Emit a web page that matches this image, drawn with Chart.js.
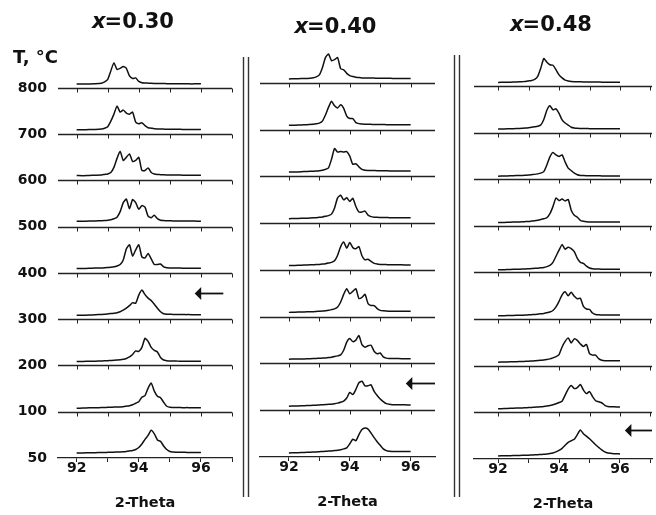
<!DOCTYPE html>
<html><head><meta charset="utf-8">
<script src="https://cdn.jsdelivr.net/npm/chart.js@4.4.1/dist/chart.umd.min.js"></script>
<style>
html,body{margin:0;padding:0;background:#fff;}
#wrap{position:relative;width:656px;height:515px;overflow:hidden;background:#fff;}
canvas{position:absolute;top:0;}
</style></head><body>
<div id="wrap">
<canvas id="c0" width="236" height="515" style="left:0px"></canvas>
<canvas id="c1" width="216" height="515" style="left:236px"></canvas>
<canvas id="c2" width="204" height="515" style="left:452px"></canvas>
</div>
<script>
// ---------------- DATA ----------------
const temps = [800, 700, 600, 500, 400, 300, 200, 100, 50];
const compositions = ['0.30', '0.40', '0.48'];
const twoTheta = [92.0, 92.2, 92.4, 92.6, 92.8, 92.9, 93.0, 93.1, 93.2, 93.3, 93.4, 93.5, 93.6, 93.7, 93.8, 93.9,
  94.0, 94.1, 94.2, 94.3, 94.4, 94.5, 94.6, 94.7, 94.8, 94.9, 95.0, 95.1, 95.2, 95.3, 95.4, 95.5, 95.6, 95.8, 96.0];
const xTickValues = [92, 93, 94, 95, 96, 97];
const xTickLabels = [92, 94, 96];
const arrowTemps = [300, 100, 50];

// intensity profiles, one row per temperature (800 ... 50)
const x030 = [
  [4,4,4,4.2,4.8,6,8.5,17,25,18.5,19.5,21.5,19.5,12,9.5,10,6.5,5.3,5,4.8,4.6,4.5,4.5,4.4,4.4,4.3,4.3,4.3,4.2,4.2,4.2,4.2,4.1,4.1,4.1],
  [4.5,4.5,4.6,4.8,5.3,6,7.5,13,20,28,22,24,21,20,22,12,10.5,11.5,8.5,6.5,6,5.5,5.3,5.2,5.1,5,5,5,4.9,4.9,4.8,4.8,4.8,4.8,4.8],
  [5,4.8,5,5.2,5.5,6,6.5,8,13,22,29,20,23,26.5,19,20,23,10,10,12.5,8,6.5,6,5.8,5.6,5.5,5.5,5.5,5.4,5.4,5.3,5.3,5.3,5.2,5.2],
  [5.5,5.5,5.6,5.8,6,6.2,6.5,7,8,9.5,15,24,27.5,18,27,24,17.5,21,19.5,10.5,9,11.5,8,6.5,6.2,6,6,5.8,5.8,5.7,5.7,5.6,5.6,5.6,5.5],
  [4.5,4.5,4.7,5,5,5.2,5.5,5.8,6.2,7,8.5,13,24,28,17,23,28,16,15,19.5,14,8.5,8.5,9,6,5.2,5,5,4.9,4.9,4.8,4.8,4.8,4.8,4.8],
  [4,4,4.2,4.5,4.8,5,5.3,5.6,6,6.5,7.5,9,11,13.5,16.5,16,24,29,24.5,21,18.5,15,11,7.5,5.5,5,5,4.8,4.8,4.7,4.7,4.6,4.6,4.5,4.5],
  [4,4,4.2,4.3,4.5,4.6,4.8,5,5.2,5.5,5.8,6.2,7,8.5,11,14.5,14,18,27,24,18,15,13.5,8,5.5,4.8,4.5,4.4,4.4,4.3,4.3,4.3,4.2,4.2,4.2],
  [3.5,3.7,3.9,4,4.2,4.3,4.4,4.5,4.6,4.7,4.8,5,5.5,6,7,8.5,10,14.5,16,23.5,28.5,20.5,15.5,14,9.5,5.5,4.5,4.3,4.2,4.2,4.1,4.1,4.1,4,4],
  [5,5,5.2,5.3,5.5,5.5,5.6,5.7,5.8,5.9,6,6.2,6.5,7,7.5,8.5,10.5,14,18.5,22.5,27.5,24,18,16.5,12,8.5,6.5,6,5.8,5.7,5.6,5.6,5.5,5.5,5.5]
];
const x040 = [
  [4,4.2,4.3,4.5,5.2,6,8,15,25,28.5,22,23,25,14,13,9.5,7.3,6.3,5.7,5.3,5,5,4.9,4.8,4.8,4.7,4.7,4.6,4.6,4.6,4.5,4.5,4.5,4.5,4.4],
  [4.3,4.5,4.7,5,5.3,5.8,6.5,8.5,14.5,22,28,23.5,21.5,24.5,21,13.5,11,11,7,6,5.7,5.5,5.4,5.3,5.2,5.2,5.1,5.1,5,5,5,4.9,4.9,4.9,4.8],
  [4.5,4.5,4.7,5,5.2,5.4,5.7,6.2,7,8.5,17,27.5,24,24.5,24,24.5,20,12,12.5,9.5,7,6.2,6,5.9,5.8,5.7,5.7,5.6,5.6,5.5,5.5,5.5,5.5,5.4,5.4],
  [4.5,4.7,4.8,5,5.3,5.5,5.8,6.2,6.8,7.5,9,15,25,27.5,23,25,21.5,24.5,16.5,11,11,12,8,6.5,6,5.8,5.7,5.6,5.6,5.5,5.5,5.5,5.4,5.4,5.3],
  [4.3,4.5,4.7,5,5.2,5.3,5.5,5.8,6.2,6.8,7.5,9,14.5,23,27.5,21.5,27,22,21,23,14,10,10.5,8.5,6.5,5.8,5.5,5.4,5.3,5.2,5.2,5.1,5.1,5,5],
  [4.3,4.5,4.6,4.8,5,5.2,5.4,5.6,5.9,6.3,7,7.8,9.5,14.5,22,27.5,22.5,25,27.5,18,19,22,13,11,11,8,6.3,5.8,5.6,5.5,5.4,5.4,5.3,5.3,5.3],
  [4.3,4.4,4.5,4.6,4.8,5,5.1,5.3,5.5,5.8,6.2,6.8,7.5,8.5,13,21,24.5,21.5,23,27.5,18.5,16,17.5,18,12,9.5,10.3,6.5,5.3,5,4.9,4.8,4.8,4.7,4.7],
  [4,4.2,4.4,4.6,4.8,5,5.2,5.4,5.6,5.8,6,6.4,7,7.8,9,12,17.5,15.5,20.5,27,28.5,24,24,25,18.5,14.5,11,8.5,6.5,5.8,5.5,5.4,5.3,5.3,5.2],
  [4,4.2,4.4,4.6,4.8,5,5.2,5.4,5.6,5.8,6,6.3,6.7,7.2,8,9,13,17.5,16,22,27,28.5,27.5,23.5,19,15,11.5,8,6.3,5.6,5.4,5.3,5.3,5.3,5.3]
];
const x048 = [
  [3.5,3.7,3.8,4,4.3,4.5,5,5.5,6.5,9.5,17.5,27,23.5,21,20.5,16,11,8,5.8,5,4.5,4.3,4.2,4.1,4,4,4,3.9,3.9,3.9,3.8,3.8,3.8,3.8,3.8],
  [3.5,3.6,3.8,4,4.3,4.5,4.8,5.2,5.7,6.3,7.5,13,22,26.5,22.5,23.5,19,12.5,9.5,7.5,5.3,4.5,4.2,4.1,4,4,3.9,3.9,3.9,3.8,3.8,3.8,3.8,3.8,3.8],
  [3,3.2,3.4,3.6,3.8,4,4.2,4.5,4.8,5.3,6,7.5,14,22,26.5,24,22.5,24,17,11,8.5,6,4.5,3.8,3.6,3.5,3.5,3.4,3.4,3.4,3.3,3.3,3.3,3.3,3.3],
  [3.3,3.4,3.6,3.8,4,4.2,4.4,4.7,5,5.5,6.2,7,8,12,19,27.5,25,26.5,24.5,26,15.5,10.5,8.5,5.5,4.5,4,3.9,3.8,3.8,3.7,3.7,3.7,3.7,3.7,3.7],
  [2.7,2.8,3,3.2,3.4,3.5,3.7,3.9,4.1,4.3,4.6,5,5.8,7,10,16,22,27.5,23,25,23.5,20.5,14,10,9,6.3,4.5,3.8,3.5,3.4,3.3,3.3,3.3,3.3,3.3],
  [3.3,3.4,3.6,3.7,3.9,4,4.2,4.4,4.6,4.9,5.2,5.6,6.2,7,8.5,12,17.5,24,27,23,26.5,22.5,20,20.5,12.5,10,9.5,6,4.5,4.2,4.1,4,4,4,4],
  [3.5,3.7,3.9,4,4.2,4.4,4.5,4.7,4.9,5.1,5.4,5.7,6.2,6.8,7.8,9,11,18.5,24,27.5,22.5,26.5,25,21.5,19,21,12,10.5,10.5,7,5.5,5,5,5,5],
  [3.5,3.8,4,4.2,4.4,4.6,4.7,4.9,5.1,5.3,5.5,5.8,6.2,6.7,7.5,8.5,9.8,11,17,23,26.5,23.5,24.5,27.5,22,18.5,20.5,15.5,11.5,10.5,9.5,7,5.8,5.5,5.3],
  [3,3.2,3.3,3.4,3.6,3.7,3.8,4,4.1,4.3,4.5,4.7,5,5.4,6,7,8.5,10.5,13.5,16.5,18,19.5,24,28.5,25,22.5,20,17,14,11.5,9,7,6,5.3,5]
];
const profiles = [x030, x040, x048];

// ---------------- LAYOUT / STYLE ----------------
const ROW = 46;                 // vertical offset between stacked patterns (data units)
const Y_MAX = 8 * ROW + 36;
const FF = '"DejaVu Sans", sans-serif';
const INK = '#111';
const LINE = '#222';

const panelLayout = [
  {xMin: 91.4,  xMax: 97.0,  pad: {left: 6,  right: 4,  top: 51.8, bottom: 3}, yAxis: true,  titleY: 23,   arrowDy: 26,   arrowX: [95.8, 96.72], sep: null},
  {xMin: 91.05, xMax: 96.8,  pad: {left: 24, right: 17, top: 46.4, bottom: 4}, yAxis: false, titleY: 27.5, arrowDy: 26.6, arrowX: [95.84, 96.8], sep: {xs: [7, 12], y0: 57, y1: 497}},
  {xMin: 91.21, xMax: 97.05, pad: {left: 22, right: 4,  top: 49.5, bottom: 2}, yAxis: false, titleY: 25.5, arrowDy: 28.6, arrowX: [96.16, 97.05], sep: {xs: [2, 7], y0: 55, y1: 497}}
];

Chart.defaults.font.family = FF;
Chart.defaults.color = INK;

const decor = {
  id: 'decor',
  beforeDatasetsDraw(chart, args, o) {
    const {ctx, chartArea: ca, scales: {x: xs, y: ys}} = chart;
    ctx.save();
    ctx.strokeStyle = LINE;
    for (let r = 1; r < temps.length; r++) {
      const y = Math.round(ys.getPixelForValue(r * ROW)) + 0.5;
      ctx.lineWidth = 1.3;
      ctx.beginPath(); ctx.moveTo(ca.left, y); ctx.lineTo(ca.right, y); ctx.stroke();
      ctx.lineWidth = 1;
      xs.ticks.forEach(t => {
        const x = Math.round(xs.getPixelForValue(t.value)) + 0.5;
        ctx.beginPath(); ctx.moveTo(x, y); ctx.lineTo(x, y + 4); ctx.stroke();
      });
    }
    ctx.restore();
  },
  afterDraw(chart, args, o) {
    const {ctx, chartArea: ca, scales: {x: xs, y: ys}} = chart;
    ctx.save();
    ctx.fillStyle = INK;
    ctx.textBaseline = 'middle';
    ctx.textAlign = 'left';
    // panel title: italic x, upright "=value"
    const f1 = 'italic bold 21px ' + FF, f2 = 'bold 21px ' + FF;
    const rest = '=' + o.comp;
    ctx.font = f1; const w1 = ctx.measureText('x').width;
    ctx.font = f2; const w2 = ctx.measureText(rest).width;
    const cx = (ca.left + ca.right) / 2 - 11.5;
    const tx = cx - (w1 + w2) / 2;
    ctx.font = f1; ctx.fillText('x', tx, o.titleY);
    ctx.font = f2; ctx.fillText(rest, tx + w1 - 1, o.titleY);
    // temperature unit label
    if (o.unit) {
      ctx.font = 'bold 18px ' + FF;
      ctx.fillText(o.unit, 13, 58);
    }
    // arrow marking the transition temperature
    const r = temps.length - 1 - temps.indexOf(o.arrowTemp);
    const ay = Math.round(ys.getPixelForValue(r * ROW + o.arrowDy)) + 0.5;
    const ax0 = xs.getPixelForValue(o.arrowX[0]);
    const ax1 = xs.getPixelForValue(o.arrowX[1]);
    ctx.strokeStyle = INK; ctx.lineWidth = 1.8;
    ctx.beginPath(); ctx.moveTo(ax0 + 5, ay); ctx.lineTo(ax1, ay); ctx.stroke();
    ctx.beginPath(); ctx.moveTo(ax0, ay); ctx.lineTo(ax0 + 6.5, ay - 6.5); ctx.lineTo(ax0 + 6.5, ay + 6.5); ctx.closePath(); ctx.fill();
    // double separator lines
    if (o.sep) {
      ctx.strokeStyle = '#333'; ctx.lineWidth = 1.4;
      o.sep.xs.forEach(x => {
        ctx.beginPath(); ctx.moveTo(x + 0.5, o.sep.y0); ctx.lineTo(x + 0.5, o.sep.y1); ctx.stroke();
      });
    }
    ctx.restore();
  }
};

profiles.forEach((series, p) => {
  const L = panelLayout[p];
  const datasets = series.map((vals, i) => {
    const row = temps.length - 1 - i;
    return {
      label: 'T=' + temps[i],
      data: twoTheta.map((t, j) => ({x: t, y: row * ROW + vals[j]})),
      borderColor: INK,
      borderWidth: 1.5,
      pointRadius: 0,
      tension: 0.2,
      fill: false
    };
  });
  new Chart(document.getElementById('c' + p), {
    type: 'line',
    data: {datasets},
    plugins: [decor],
    options: {
      responsive: false,
      animation: false,
      devicePixelRatio: 1,
      layout: {padding: L.pad},
      plugins: {
        legend: {display: false},
        tooltip: {enabled: false},
        decor: {comp: compositions[p], titleY: L.titleY, unit: L.yAxis ? 'T, \u00B0C' : null,
                arrowTemp: arrowTemps[p], arrowDy: L.arrowDy, arrowX: L.arrowX, sep: L.sep}
      },
      scales: {
        x: {
          type: 'linear',
          min: L.xMin, max: L.xMax,
          afterBuildTicks: s => { s.ticks = xTickValues.filter(v => v >= s.min && v <= s.max).map(v => ({value: v})); },
          afterFit: s => { s.height = 54; },
          ticks: {
            autoSkip: false, maxRotation: 0, padding: -2,
            font: {size: 14, weight: 'bold'}, color: INK,
            callback: v => xTickLabels.includes(v) ? String(v) : ''
          },
          grid: {display: true, drawOnChartArea: false, drawTicks: true, tickLength: 4, color: LINE, lineWidth: 1},
          border: {display: true, color: LINE, width: 1.3},
          title: {display: true, text: '2-Theta', font: {size: 14.5, weight: 'bold'}, color: INK, padding: {top: 18, bottom: 0}}
        },
        y: {
          display: L.yAxis,
          min: 0, max: Y_MAX,
          afterBuildTicks: s => { s.ticks = temps.map((t, i) => ({value: i * ROW})); },
          afterFit: s => { s.width = L.yAxis ? 52 : 0; },
          ticks: {
            padding: 11,
            font: {size: 14, weight: 'bold'}, color: INK,
            callback: v => String(temps[temps.length - 1 - Math.round(v / ROW)])
          },
          grid: {display: false, drawTicks: false},
          border: {display: false}
        }
      }
    }
  });
});
</script>
</body></html>
